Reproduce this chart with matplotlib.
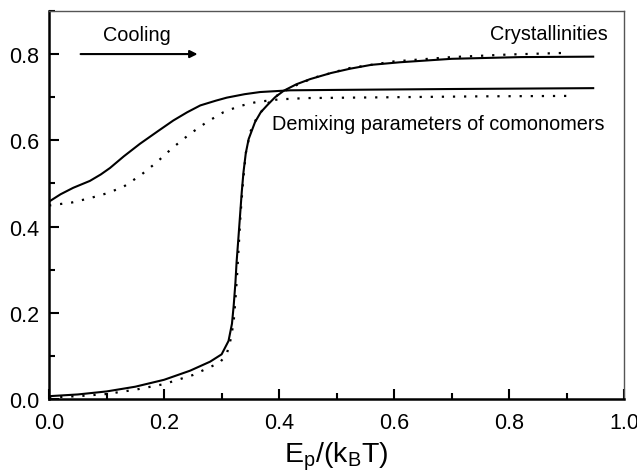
import matplotlib.pyplot as plt
from matplotlib.ticker import MultipleLocator

plt.rcParams['font.family'] = ['Liberation Sans', 'DejaVu Sans']

# crystallinity, solid and dotted runs
cryst_x = [0.0, 0.05, 0.10, 0.15, 0.20, 0.245, 0.28, 0.300, 0.312, 0.318, 0.321, 0.324,
           0.326, 0.329, 0.332, 0.335, 0.338, 0.342, 0.347, 0.358, 0.368, 0.379, 0.393,
           0.408, 0.43, 0.454, 0.49, 0.523, 0.56, 0.61, 0.70, 0.82, 0.946]
cryst_y = [0.007, 0.011, 0.018, 0.029, 0.045, 0.066, 0.087, 0.104, 0.135, 0.175, 0.217, 0.27,
           0.317, 0.37, 0.425, 0.48, 0.526, 0.57, 0.603, 0.642, 0.665, 0.681, 0.700,
           0.715, 0.730, 0.742, 0.756, 0.766, 0.775, 0.781, 0.789, 0.793, 0.794]

cryst_dot_x = [0.0, 0.05, 0.10, 0.15, 0.20, 0.25, 0.297, 0.309, 0.316, 0.321, 0.324, 0.327,
               0.33, 0.333, 0.337, 0.342, 0.35, 0.362, 0.38, 0.40, 0.43, 0.46, 0.52, 0.60,
               0.70, 0.80, 0.905]
cryst_dot_y = [0.004, 0.007, 0.012, 0.022, 0.035, 0.056, 0.085, 0.105, 0.14, 0.18, 0.23, 0.29,
               0.36, 0.43, 0.50, 0.57, 0.62, 0.655, 0.685, 0.708, 0.728, 0.745, 0.767, 0.783,
               0.793, 0.799, 0.803]

# demixing parameters of comonomers
demix_x = [0.0, 0.02, 0.042, 0.071, 0.09, 0.106, 0.13, 0.158, 0.19, 0.216, 0.24, 0.263,
           0.29, 0.309, 0.34, 0.367, 0.419, 0.506, 0.70, 0.946]
demix_y = [0.458, 0.475, 0.49, 0.506, 0.521, 0.536, 0.563, 0.592, 0.622, 0.646, 0.665, 0.681,
           0.692, 0.699, 0.707, 0.712, 0.716, 0.717, 0.719, 0.721]

demix_dot_x = [0.0, 0.04, 0.071, 0.10, 0.129, 0.16, 0.187, 0.215, 0.245, 0.275, 0.303, 0.33,
               0.361, 0.40, 0.448, 0.60, 0.75, 0.905]
demix_dot_y = [0.449, 0.456, 0.466, 0.477, 0.492, 0.52, 0.549, 0.583, 0.615, 0.643, 0.665, 0.679,
               0.689, 0.695, 0.698, 0.700, 0.702, 0.703]

fig = plt.figure(figsize=(6.37, 4.77), dpi=100)
ax = fig.add_axes([0.077, 0.161, 0.903, 0.814])

dots = (0, (1, 4))
ax.plot(cryst_x, cryst_y, color='black', lw=1.5)
ax.plot(cryst_dot_x, cryst_dot_y, color='black', lw=1.6, linestyle=dots)
ax.plot(demix_x, demix_y, color='black', lw=1.5)
ax.plot(demix_dot_x, demix_dot_y, color='black', lw=1.6, linestyle=dots)

ax.set_xlim(0, 1.0)
ax.set_ylim(0, 0.9)
ax.xaxis.set_major_locator(MultipleLocator(0.2))
ax.xaxis.set_minor_locator(MultipleLocator(0.1))
ax.yaxis.set_major_locator(MultipleLocator(0.2))
ax.yaxis.set_minor_locator(MultipleLocator(0.1))
ax.xaxis.set_major_formatter(lambda v, p: f'{v:.1f}')
ax.yaxis.set_major_formatter(lambda v, p: f'{v:.1f}')
ax.tick_params(which='both', direction='in', width=1.5, labelsize=15.5, top=False, right=False)
ax.tick_params(which='major', length=7)
ax.tick_params(which='minor', length=4)
ax.tick_params(axis='x', pad=9)
ax.tick_params(axis='y', pad=7)

for side in ['left', 'bottom']:
    ax.spines[side].set_linewidth(1.8)
for side in ['top', 'right']:
    ax.spines[side].set_linewidth(1.0)
    ax.spines[side].set_color('#555555')

ax.set_xlabel(r'E$_\mathregular{p}$/(k$_\mathregular{B}$T)', fontsize=20.5, labelpad=5)

ax.annotate('', xy=(0.263, 0.8), xytext=(0.05, 0.8),
            arrowprops=dict(arrowstyle='-|>', color='black', lw=1.5, mutation_scale=11))
ax.text(0.094, 0.845, 'Cooling', fontsize=14.3, va='center', ha='left')
ax.text(0.972, 0.847, 'Crystallinities', fontsize=14.3, va='center', ha='right')
ax.text(0.388, 0.638, 'Demixing parameters of comonomers', fontsize=14.3, va='center', ha='left')

fig.savefig('out.png', dpi=100)
